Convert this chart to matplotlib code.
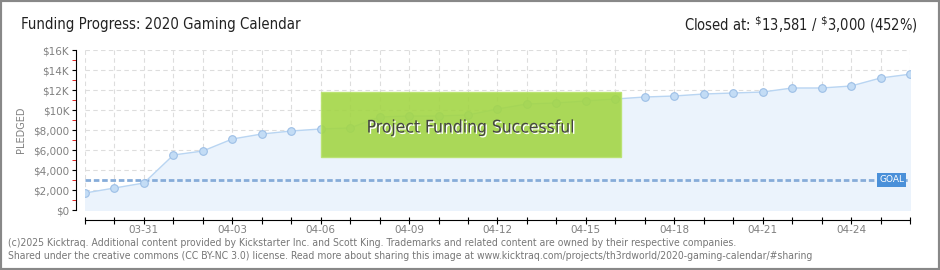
import matplotlib
matplotlib.use("Agg")
import matplotlib.pyplot as plt
import numpy as np
from matplotlib.patches import Rectangle
import matplotlib.patheffects as pe

# daily pledged totals, 03-29 .. 04-26
dates = ["03-29", "03-30", "03-31", "04-01", "04-02", "04-03", "04-04", "04-05",
         "04-06", "04-07", "04-08", "04-09", "04-10", "04-11", "04-12", "04-13",
         "04-14", "04-15", "04-16", "04-17", "04-18", "04-19", "04-20", "04-21",
         "04-22", "04-23", "04-24", "04-25", "04-26"]
pledged = [1700, 2200, 2700, 5500, 5900, 7100, 7600, 7900,
           8100, 8200, 9300, 9400, 9400, 9500, 10100, 10600,
           10700, 10900, 11100, 11300, 11400, 11600, 11700, 11800,
           12200, 12200, 12400, 13200, 13581]
goal = 3000
ytick_vals = [0, 2000, 4000, 6000, 8000, 10000, 12000, 14000, 16000]
ytick_labels = ["$0", "$2,000", "$4,000", "$6,000", "$8,000", "$10K", "$12K", "$14K", "$16K"]

W, H = 940, 270
PT = 0.72  # points per pixel at 100 dpi
fig = plt.figure(figsize=(W / 100, H / 100), dpi=100)
fig.patch.set_facecolor("white")

ax = fig.add_axes([85 / W, 1 - 210 / H, (910 - 85) / W, 160 / H])
x = np.arange(len(dates))

ax.fill_between(x, pledged, 0, color="#ebf3fc", zorder=1)
ax.plot(x, pledged, color="#b9d5f2", lw=1, zorder=3)
ax.plot(x, pledged, "o", ms=5.5, mfc="#c3dcf5", mec="#9dbfe6", mew=0.8, zorder=4)
ax.axhline(goal, color="#86acd9", lw=2, ls=(0, (2, 1)), zorder=2)

ax.set_xlim(0, len(dates) - 1)
ax.set_ylim(0, 16000)

ax.set_xticks(x)
ax.grid(True, color="#dddddd", ls=(0, (4, 3)), lw=0.8, zorder=0)
ax.set_axisbelow(True)

for s in ["top", "right"]:
    ax.spines[s].set_visible(False)
ax.spines["left"].set_position(("outward", 9 * PT))
ax.spines["bottom"].set_position(("outward", 10 * PT))

ax.set_yticks(ytick_vals)
ax.set_yticklabels(ytick_labels)
ax.set_yticks(np.arange(1000, 16000, 2000), minor=True)
ax.tick_params(axis="y", which="major", direction="out", length=4 * PT, color="black",
               labelsize=7.5, labelcolor="#808080", pad=2)
ax.tick_params(axis="y", which="minor", direction="out", length=4 * PT, color="#dd0000")

ax.set_xticklabels([d if i % 3 == 2 else "" for i, d in enumerate(dates)])
ax.tick_params(axis="x", which="major", direction="inout", length=7 * PT, color="black",
               labelsize=7.5, labelcolor="#808080", pad=1)

ax.set_ylabel("PLEDGED", fontsize=7, color="#808080", labelpad=5)

# goal label
ax.text(len(dates) - 1.2, goal, "GOAL", fontsize=6.5, color="white", ha="right", va="center",
        bbox=dict(boxstyle="square,pad=0.25", fc="#4a90d9", ec="none"), zorder=6)

# success banner
ax.add_patch(Rectangle((8, 5300), 10.2, 6500, fc="#a3d646", ec="#b9e26d", lw=1,
                       alpha=0.9, zorder=5))
ax.text(13.1, 8250, "Project Funding Successful", fontsize=12.5, color="#444444",
        ha="center", va="center", zorder=6, fontstretch="condensed",
        path_effects=[pe.withSimplePatchShadow(offset=(1, -1), shadow_rgbFace="white", alpha=1)])

# header
fig.text(21 / W, 1 - 25 / H, "Funding Progress: 2020 Gaming Calendar", fontsize=10.7,
         fontstretch="condensed", color="#222222", va="center")
fig.text(918 / W, 1 - 25 / H, r"Closed at: $^{\$}$13,581 / $^{\$}$3,000 (452%)", fontsize=10.5,
         fontstretch="condensed", color="#222222", va="center", ha="right")

# footer
fig.text(8 / W, 1 - 243 / H,
         "(c)2025 Kicktraq. Additional content provided by Kickstarter Inc. and Scott King. "
         "Trademarks and related content are owned by their respective companies.",
         fontsize=7.45, color="#777777", va="center", fontstretch="condensed")
fig.text(8 / W, 1 - 256 / H,
         "Shared under the creative commons (CC BY-NC 3.0) license. Read more about sharing "
         "this image at www.kicktraq.com/projects/th3rdworld/2020-gaming-calendar/#sharing",
         fontsize=7.45, color="#777777", va="center", fontstretch="condensed")

# outer frame
fig.add_artist(Rectangle((0, 0), 1, 1, transform=fig.transFigure, fill=False,
                         ec="#888888", lw=3))

fig.savefig("out.png", dpi=100)
